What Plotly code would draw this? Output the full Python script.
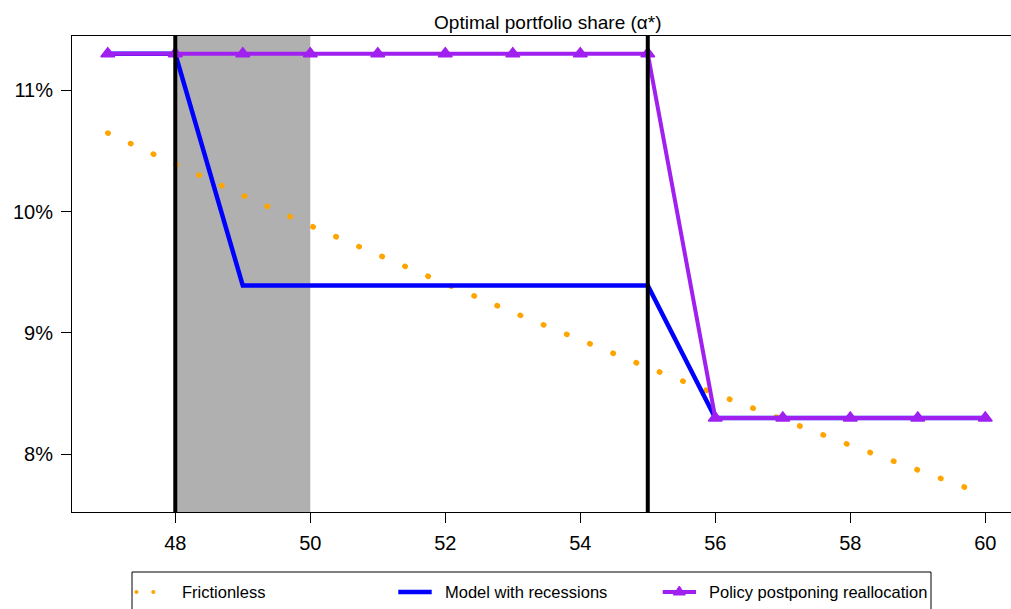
import plotly.graph_objects as go

# ---- data ----
ages = [47, 48, 49, 50, 51, 52, 53, 54, 55, 56, 57, 58, 59, 60]
frictionless = [10.647, 10.385, 10.133, 9.884, 9.640, 9.406, 9.170, 8.941,
                8.716, 8.499, 8.285, 8.075, 7.871, 7.668]
model_recessions = [11.3, 11.3, 9.39, 9.39, 9.39, 9.39, 9.39, 9.39, 9.39,
                    8.3, 8.3, 8.3, 8.3, 8.3]
policy_postponing = [11.3, 11.3, 11.3, 11.3, 11.3, 11.3, 11.3, 11.3, 11.3,
                     8.3, 8.3, 8.3, 8.3, 8.3]
recession_start, recession_end = 48, 50
vlines = [48, 55]
x_ticks = [48, 50, 52, 54, 56, 58, 60]
y_ticks = [8, 9, 10, 11]
y_ticktext = ["8%", "9%", "10%", "11%"]
legend_labels = ["Frictionless", "Model with recessions", "Policy postponing reallocation"]
title_text = "Optimal portfolio share (\u03b1*)"

# ---- style ----
W, H = 1011, 609
L, T, R, B = 72, 36, 0, 97
PW, PH = W - L - R, H - T - B
FONT = "Liberation Sans, Arial, sans-serif"
ORANGE, BLUE, PURPLE = "#FFA500", "#0000FF", "#A020F0"


def px_x(p):
    return (p - L) / PW


def px_y(p):
    return (T + PH - p) / PH


fig = go.Figure()

fig.add_trace(go.Scatter(
    x=ages, y=frictionless, mode="lines",
    line=dict(color=ORANGE, width=5.5, dash="0.5px,24.55px"),
    showlegend=False, hoverinfo="skip"))

fig.add_trace(go.Scatter(
    x=ages, y=model_recessions, mode="lines",
    line=dict(color=BLUE, width=4.5),
    showlegend=False, hoverinfo="skip"))

fig.add_trace(go.Scatter(
    x=ages, y=policy_postponing, mode="lines+markers",
    line=dict(color=PURPLE, width=4),
    marker=dict(symbol="triangle-up", size=12, color=PURPLE,
                line=dict(color=PURPLE, width=1.5)),
    showlegend=False, hoverinfo="skip"))

shapes = [
    dict(type="rect", xref="x", yref="paper", x0=recession_start, x1=recession_end,
         y0=0, y1=1, fillcolor="#B0B0B0", line=dict(width=0), layer="below"),
]
for v in vlines:
    shapes.append(dict(type="line", xref="x", yref="paper", x0=v, x1=v, y0=0, y1=1,
                       line=dict(color="black", width=4), layer="above"))

# ---- manual legend (box + keys) ----
ly = 592
shapes.append(dict(type="rect", xref="paper", yref="paper",
                   x0=px_x(132), x1=px_x(931), y0=px_y(572), y1=px_y(640),
                   line=dict(color="black", width=1), fillcolor="rgba(0,0,0,0)"))
for cx in (136.5, 153.3):
    shapes.append(dict(type="circle", xref="paper", yref="paper",
                       x0=px_x(cx - 2), x1=px_x(cx + 2), y0=px_y(ly + 2), y1=px_y(ly - 2),
                       fillcolor=ORANGE, line=dict(width=0)))
shapes.append(dict(type="line", xref="paper", yref="paper",
                   x0=px_x(398.3), x1=px_x(431.7), y0=px_y(ly), y1=px_y(ly),
                   line=dict(color=BLUE, width=4.5)))
shapes.append(dict(type="line", xref="paper", yref="paper",
                   x0=px_x(662.7), x1=px_x(696), y0=px_y(ly), y1=px_y(ly),
                   line=dict(color=PURPLE, width=4)))
tx, tw, th = 679.3, 6.0, 9.0
shapes.append(dict(type="path", xref="paper", yref="paper",
                   path="M {} {} L {} {} L {} {} Z".format(
                       px_x(tx - tw), px_y(ly + 3), px_x(tx + tw), px_y(ly + 3),
                       px_x(tx), px_y(ly + 3 - th)),
                   fillcolor=PURPLE, line=dict(color=PURPLE, width=1)))

annotations = []
for text, xl in zip(legend_labels, (181.7, 445.0, 709.3)):
    annotations.append(dict(text=text, xref="paper", yref="paper",
                            x=px_x(xl - 2), y=px_y(ly), xanchor="left", yanchor="middle",
                            showarrow=False, font=dict(family=FONT, size=16.5, color="black")))

fig.update_layout(
    width=W, height=H,
    margin=dict(l=L, r=R, t=T, b=B, autoexpand=False),
    paper_bgcolor="white", plot_bgcolor="white",
    font=dict(family=FONT, color="black"),
    title=dict(text=title_text, xref="paper", x=px_x(547.8), xanchor="center",
               yref="container", y=1 - 22 / H, yanchor="middle",
               font=dict(family=FONT, size=19, color="black")),
    shapes=shapes, annotations=annotations,
    showlegend=False,
)
fig.update_xaxes(range=[46.47, 60.381], tickvals=x_ticks, showgrid=False, zeroline=False,
                 showline=True, linecolor="black", linewidth=1, mirror=True,
                 ticks="outside", ticklen=10, tickwidth=1, tickcolor="black",
                 tickfont=dict(family=FONT, size=20, color="black"), ticklabelstandoff=3)
fig.update_yaxes(range=[7.525, 11.446], tickvals=y_ticks, ticktext=y_ticktext,
                 showgrid=False, zeroline=False,
                 showline=True, linecolor="black", linewidth=1, mirror=False,
                 ticks="outside", ticklen=10, tickwidth=1, tickcolor="black",
                 tickfont=dict(family=FONT, size=20, color="black"), ticklabelstandoff=4)

post_script = """
document.body.style.margin = '0';
var gd = document.getElementById('{plot_id}');
function roundDots() {
  var tr = gd.querySelectorAll('.scatterlayer .trace');
  if (tr.length) {
    tr[0].querySelectorAll('path.js-line').forEach(function (p) {
      p.style.strokeLinecap = 'round';
    });
  }
}
roundDots();
gd.on('plotly_afterplot', roundDots);
"""

fig.write_html("out.html", post_script=post_script,
               config={"displayModeBar": False, "staticPlot": True})
